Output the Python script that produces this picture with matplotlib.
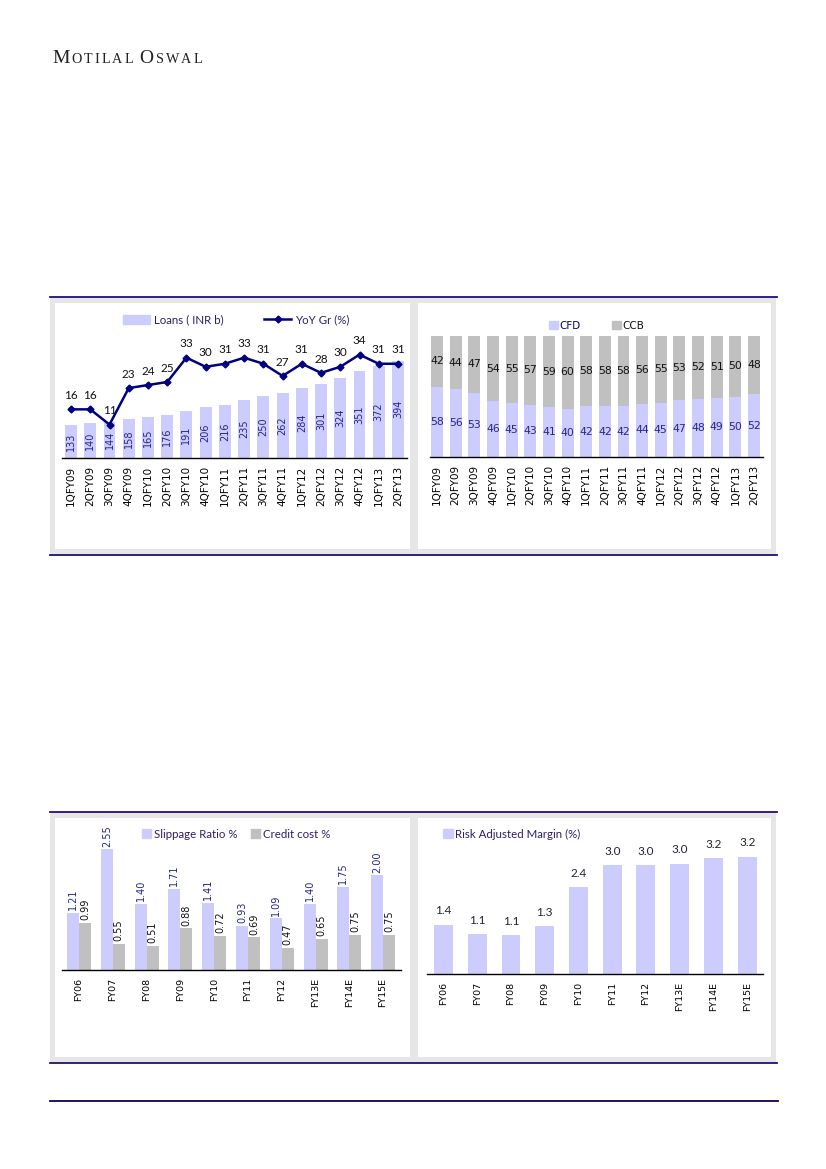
import matplotlib
matplotlib.use("Agg")
import matplotlib.pyplot as plt
from matplotlib.patches import Rectangle, Patch
from matplotlib.lines import Line2D
import numpy as np

plt.rcParams['font.family'] = ['DejaVu Sans']

W, H = 826, 1169

# ---- data ----
quarters = ['1QFY09', '2QFY09', '3QFY09', '4QFY09', '1QFY10', '2QFY10', '3QFY10', '4QFY10',
            '1QFY11', '2QFY11', '3QFY11', '4QFY11', '1QFY12', '2QFY12', '3QFY12', '4QFY12',
            '1QFY13', '2QFY13']
loans = [133, 140, 144, 158, 165, 176, 191, 206, 216, 235, 250, 262, 284, 301, 324, 351, 372, 394]
yoy_gr = [16, 16, 11, 23, 24, 25, 33, 30, 31, 33, 31, 27, 31, 28, 30, 34, 31, 31]

cfd = [58, 56, 53, 46, 45, 43, 41, 40, 42, 42, 42, 44, 45, 47, 48, 49, 50, 52]
ccb = [42, 44, 47, 54, 55, 57, 59, 60, 58, 58, 58, 56, 55, 53, 52, 51, 50, 48]

years = ['FY06', 'FY07', 'FY08', 'FY09', 'FY10', 'FY11', 'FY12', 'FY13E', 'FY14E', 'FY15E']
slippage = [1.21, 2.55, 1.40, 1.71, 1.41, 0.93, 1.09, 1.40, 1.75, 2.00]
credit_cost = [0.99, 0.55, 0.51, 0.88, 0.72, 0.69, 0.47, 0.65, 0.75, 0.75]
risk_margin = [1.36, 1.10, 1.08, 1.32, 2.40, 3.01, 3.01, 3.04, 3.20, 3.24]

LAV = '#ccccff'
GREY = '#c0c0c0'
NAVY = '#000080'
LBL = '#26268a'
LEG = '#2b1f66'
BORDER = '#1c1078'


def frect(x0, y0, x1, y1):
    # pixel box (top-left origin) -> figure fraction
    return [x0 / W, 1 - y1 / H, (x1 - x0) / W, (y1 - y0) / H]


def fpt(x, y):
    return (x / W, 1 - y / H)


fig = plt.figure(figsize=(W / 100, H / 100), dpi=100)
fig.patch.set_facecolor('white')

# panels
for top, bot in [(297, 555), (812, 1063)]:
    fig.patches.append(Rectangle(fpt(50, bot), 726 / W, (bot - top) / H, transform=fig.transFigure,
                                 fc='#e6e6e6', ec='none', zorder=-3))
    for x0, x1 in [(55, 410), (418, 771)]:
        fig.patches.append(Rectangle(fpt(x0, bot - 6), (x1 - x0) / W, (bot - top - 12) / H,
                                     transform=fig.transFigure, fc='white', ec='none', zorder=-2))
    for y in (top, bot):
        fig.lines.append(Line2D([50 / W, 777 / W], [1 - y / H, 1 - y / H], transform=fig.transFigure,
                                color=BORDER, lw=1.3, zorder=-1))
fig.lines.append(Line2D([50 / W, 778 / W], [1 - 1101 / H, 1 - 1101 / H], transform=fig.transFigure,
                        color='#14004d', lw=1.3))

# header in small caps
renderer = fig.canvas.get_renderer()
xpos = 52
for word in ['MOTILAL', 'OSWAL']:
    for i, ch in enumerate(word):
        size = 14 if i == 0 else 10.2
        t = fig.text(xpos / W, 1 - 63 / H, ch, fontsize=size, family='Liberation Serif',
                     color='#222222', va='baseline', ha='left')
        bb = t.get_window_extent(renderer)
        xpos += bb.width + 2.0
    xpos += 5


def style_axis(ax, labels, xs, fontsize, pad):
    for s in ['top', 'left', 'right']:
        ax.spines[s].set_visible(False)
    ax.spines['bottom'].set_color('black')
    ax.spines['bottom'].set_linewidth(1.0)
    ax.set_yticks([])
    ax.set_xticks(xs, labels, rotation=90, fontsize=fontsize, family='DejaVu Sans')
    ax.tick_params(axis='x', length=0, pad=pad, colors='black')
    ax.set_facecolor('none')


# ---- top left: loans + yoy ----
xq = np.arange(len(quarters))
ax1 = fig.add_axes(frect(62, 306, 407, 458))
bars = ax1.bar(xq, loans, width=0.62, color=LAV)
ax1.set_ylim(0, 615)
ax1.set_xlim(-0.47, 17.47)
style_axis(ax1, quarters, xq, 7.5, 5.5)
ax1.bar_label(bars, labels=[str(v) for v in loans], label_type='center', rotation=90,
              fontsize=7, color=LBL, family='DejaVu Sans')
ax2 = ax1.twinx()
ax2.plot(xq, yoy_gr, color=NAVY, lw=1.8, marker='D', ms=3.5)
ax2.set_ylim(0, 50)
ax2.set_yticks([])
for s in ax2.spines.values():
    s.set_visible(False)
for xi, v in zip(xq, yoy_gr):
    ax2.annotate(str(v), (xi, v), xytext=(0, 6), textcoords='offset points', ha='center',
                 va='bottom', fontsize=8.5, family='Lato', color='#111111')
ax1.legend([Patch(color=LAV), Line2D([], [], color=NAVY, lw=1.8, marker='D', ms=3.5)],
           ['Loans ( INR b)', 'YoY Gr (%)'], loc='center', bbox_to_anchor=fpt(236, 320),
           bbox_transform=fig.transFigure, ncol=2, frameon=False, labelcolor=LEG,
           handlelength=2.4, handleheight=0.7, handletextpad=0.3, columnspacing=3.5,
           prop={'family': 'Lato', 'size': 8.3})

# ---- top right: CFD / CCB mix ----
ax3 = fig.add_axes(frect(430, 336, 763, 457))
b1 = ax3.bar(xq, cfd, width=0.64, color=LAV)
b2 = ax3.bar(xq, ccb, width=0.64, bottom=cfd, color=GREY)
ax3.set_ylim(0, 100)
ax3.set_xlim(-0.375, 17.48)
style_axis(ax3, quarters, xq, 7.5, 5.5)
ax3.bar_label(b1, labels=[str(v) for v in cfd], label_type='center', fontsize=7.8, color=LBL,
              family='DejaVu Sans')
ax3.bar_label(b2, labels=[str(v) for v in ccb], label_type='center', fontsize=7.8,
              color='#111111', family='DejaVu Sans')
ax3.legend([Patch(color=LAV), Patch(color=GREY)], ['CFD', 'CCB'], loc='center',
           bbox_to_anchor=fpt(597, 326), bbox_transform=fig.transFigure, ncol=2, frameon=False,
           labelcolor=[NAVY, '#111111'], handlelength=0.8, handleheight=0.8, handletextpad=0.2,
           columnspacing=3.0, prop={'family': 'DejaVu Sans', 'size': 7.5})

# ---- bottom left: slippage / credit cost ----
xy = np.arange(len(years))
ax4 = fig.add_axes(frect(62, 828, 401, 970))
bw = 0.355
s1 = ax4.bar(xy - bw / 2, slippage, width=bw, color=LAV)
s2 = ax4.bar(xy + bw / 2, credit_cost, width=bw, color=GREY)
ax4.set_ylim(0, 3.0)
ax4.set_xlim(-0.503, 9.53)
style_axis(ax4, years, xy, 6.8, 6)
ax4.bar_label(s1, labels=['%.2f' % v for v in slippage], padding=2, rotation=90, fontsize=7,
              color=LBL, family='DejaVu Sans')
ax4.bar_label(s2, labels=['%.2f' % v for v in credit_cost], padding=2, rotation=90, fontsize=7,
              color='#111111', family='DejaVu Sans')
ax4.legend([Patch(color=LAV), Patch(color=GREY)], ['Slippage Ratio %', 'Credit cost %'],
           loc='center', bbox_to_anchor=fpt(236, 834), bbox_transform=fig.transFigure, ncol=2,
           frameon=False, labelcolor=LEG, handlelength=0.8, handleheight=0.8, handletextpad=0.2,
           columnspacing=1.2, prop={'family': 'Lato', 'size': 8.3})

# ---- bottom right: risk adjusted margin ----
ax5 = fig.add_axes(frect(427, 829, 763, 974))
r1 = ax5.bar(xy, risk_margin, width=0.56, color=LAV)
ax5.set_ylim(0, 4.0)
ax5.set_xlim(-0.49, 9.47)
style_axis(ax5, years, xy, 6.8, 6)
ax5.bar_label(r1, labels=['%.1f' % v for v in risk_margin], padding=6, fontsize=8.5,
              family='Lato', color='#222233')
ax5.legend([Patch(color=LAV)], ['Risk Adjusted Margin (%)'], loc='center left',
           bbox_to_anchor=fpt(433, 834), bbox_transform=fig.transFigure, frameon=False,
           labelcolor=LEG, handlelength=0.8, handleheight=0.8, handletextpad=0.2,
           prop={'family': 'Lato', 'size': 8.3})

fig.savefig('out.png', dpi=100)
